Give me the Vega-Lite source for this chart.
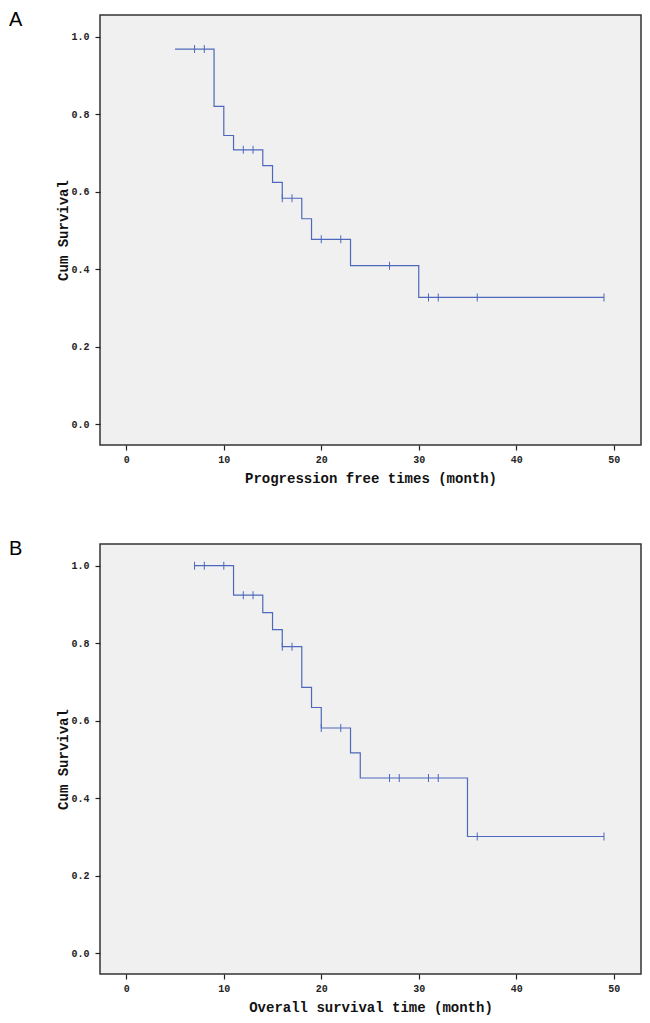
{
  "$schema": "https://vega.github.io/schema/vega-lite/v6.json",
  "background": "white",
  "padding": {"left": 8, "top": 9, "right": 5, "bottom": 3},
  "spacing": 52,
  "datasets": {
    "pfs": [
      {"t": 5, "s": 0.968}, {"t": 9, "s": 0.82}, {"t": 10, "s": 0.745}, {"t": 11, "s": 0.708},
      {"t": 14, "s": 0.667}, {"t": 15, "s": 0.624}, {"t": 16, "s": 0.583}, {"t": 18, "s": 0.53},
      {"t": 19, "s": 0.477}, {"t": 23, "s": 0.409}, {"t": 30, "s": 0.327}, {"t": 49, "s": 0.327}
    ],
    "pfs_c": [
      {"t": 7, "s": 0.968}, {"t": 8, "s": 0.968}, {"t": 12, "s": 0.708}, {"t": 13, "s": 0.708},
      {"t": 16, "s": 0.583}, {"t": 17, "s": 0.583}, {"t": 20, "s": 0.477}, {"t": 22, "s": 0.477},
      {"t": 27, "s": 0.409}, {"t": 31, "s": 0.327}, {"t": 32, "s": 0.327}, {"t": 36, "s": 0.327},
      {"t": 49, "s": 0.327}
    ],
    "os": [
      {"t": 7, "s": 1.0}, {"t": 11, "s": 0.924}, {"t": 14, "s": 0.879}, {"t": 15, "s": 0.835},
      {"t": 16, "s": 0.791}, {"t": 18, "s": 0.686}, {"t": 19, "s": 0.634}, {"t": 20, "s": 0.581},
      {"t": 23, "s": 0.517}, {"t": 24, "s": 0.452}, {"t": 35, "s": 0.301}, {"t": 49, "s": 0.301}
    ],
    "os_c": [
      {"t": 7, "s": 1.0}, {"t": 8, "s": 1.0}, {"t": 10, "s": 1.0}, {"t": 12, "s": 0.924},
      {"t": 13, "s": 0.924}, {"t": 16, "s": 0.791}, {"t": 17, "s": 0.791}, {"t": 20, "s": 0.581},
      {"t": 22, "s": 0.581}, {"t": 27, "s": 0.452}, {"t": 28, "s": 0.452}, {"t": 31, "s": 0.452},
      {"t": 32, "s": 0.452}, {"t": 36, "s": 0.301}, {"t": 49, "s": 0.301}
    ]
  },
  "vconcat": [
    {
      "width": 541,
      "height": 430,
      "title": {"text": "A", "anchor": "start", "frame": "bounds", "font": "Liberation Sans", "fontSize": 20, "fontWeight": "normal", "color": "#000000", "dx": -48, "dy": 19},
      "layer": [
        {
          "data": {"name": "pfs"},
          "mark": {"type": "line", "interpolate": "step-after", "color": "#4D68BC", "strokeWidth": 1.2},
          "encoding": {
            "x": {"field": "t", "type": "quantitative", "scale": {"domain": [-2.7, 52.8], "nice": false, "zero": false},
                  "axis": {"values": [0, 10, 20, 30, 40, 50], "title": "Progression free times (month)"}},
            "y": {"field": "s", "type": "quantitative", "scale": {"domain": [-0.054, 1.056], "nice": false, "zero": false},
                  "axis": {"values": [0, 0.2, 0.4, 0.6, 0.8, 1.0], "format": ".1f", "title": "Cum Survival"}}
          }
        },
        {
          "data": {"name": "pfs_c"},
          "mark": {"type": "tick", "orient": "vertical", "size": 8, "thickness": 1, "color": "#4D68BC", "opacity": 1},
          "encoding": {
            "x": {"field": "t", "type": "quantitative"},
            "y": {"field": "s", "type": "quantitative"}
          }
        }
      ]
    },
    {
      "width": 541,
      "height": 430,
      "title": {"text": "B", "anchor": "start", "frame": "bounds", "font": "Liberation Sans", "fontSize": 20, "fontWeight": "normal", "color": "#000000", "dx": -48, "dy": 19},
      "layer": [
        {
          "data": {"name": "os"},
          "mark": {"type": "line", "interpolate": "step-after", "color": "#4D68BC", "strokeWidth": 1.2},
          "encoding": {
            "x": {"field": "t", "type": "quantitative", "scale": {"domain": [-2.7, 52.8], "nice": false, "zero": false},
                  "axis": {"values": [0, 10, 20, 30, 40, 50], "title": "Overall survival time (month)"}},
            "y": {"field": "s", "type": "quantitative", "scale": {"domain": [-0.054, 1.056], "nice": false, "zero": false},
                  "axis": {"values": [0, 0.2, 0.4, 0.6, 0.8, 1.0], "format": ".1f", "title": "Cum Survival"}}
          }
        },
        {
          "data": {"name": "os_c"},
          "mark": {"type": "tick", "orient": "vertical", "size": 8, "thickness": 1, "color": "#4D68BC", "opacity": 1},
          "encoding": {
            "x": {"field": "t", "type": "quantitative"},
            "y": {"field": "s", "type": "quantitative"}
          }
        }
      ]
    }
  ],
  "config": {
    "view": {"fill": "#F0F0F0", "stroke": "#333333", "strokeWidth": 1.5},
    "axis": {
      "grid": false,
      "domain": false,
      "tickSize": 5,
      "tickColor": "#222222",
      "tickWidth": 1.2,
      "labelFont": "Liberation Mono",
      "labelFontSize": 10,
      "labelFontWeight": "bold",
      "labelColor": "#222222",
      "titleFont": "Liberation Mono",
      "titleFontSize": 14,
      "titleFontWeight": "bold",
      "titleColor": "#111111"
    },
    "axisX": {"labelPadding": 4, "titlePadding": 7},
    "axisY": {"labelPadding": 6, "titlePadding": 0}
  }
}
